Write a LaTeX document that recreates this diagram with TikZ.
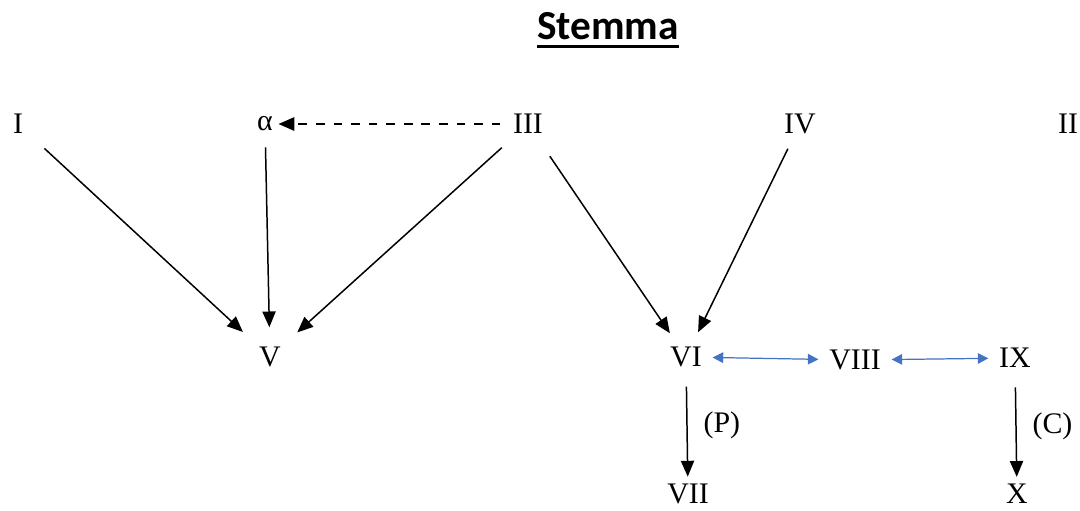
\documentclass[tikz,border=0pt]{standalone}
\usepackage{fontspec}
\setmainfont{Liberation Serif}
\newfontfamily\titlefont{Carlito}
\usetikzlibrary{arrows.meta}
\usepackage{xcolor}
\definecolor{linkblue}{HTML}{4472C4}

\begin{document}
\begin{tikzpicture}[x=0.02cm,y=-0.02cm]

\tikzset{vertex/.style = {inner sep=1pt,font=\fontsize{17}{20}\selectfont}}
\tikzset{edge/.style = {-{Triangle[length=9pt,width=7.5pt]},line width=0.85pt,shorten >=8pt,shorten <=8pt}}
\tikzset{link/.style = {{Triangle[length=6pt,width=6pt]}-{Triangle[length=6pt,width=6pt]},linkblue,line width=0.7pt,shorten >=5pt,shorten <=5pt}}
\useasboundingbox (0,0) rectangle (1080,511);
\node[inner sep=0pt,font=\titlefont\bfseries\fontsize{23.5}{28}\selectfont] (title) at (608,26) {Stemma};
\draw[line width=1.3pt] ([yshift=-4pt]title.base west) -- ([yshift=-4pt]title.base east);
\node[vertex] (I) at (18,124) {I};
\node[vertex] (alpha) at (265,124) {α};
\node[vertex] (III) at (528,124) {III};
\node[vertex] (IV) at (800,124) {IV};
\node[vertex] (II) at (1068,124) {II};
\node[vertex] (V) at (270,357) {V};
\node[vertex] (VI) at (686,357) {VI};
\node[vertex] (VIII) at (855,360) {VIII};
\node[vertex] (IX) at (1015,358) {IX};
\node[vertex] (VII) at (688,494) {VII};
\node[vertex] (X) at (1017,494) {X};
%edges
\draw[edge,shorten <=15pt,shorten >=11pt] (I) to (V);
\draw[edge,shorten >=10pt] (alpha) to (V);
\draw[edge,shorten <=10pt,shorten >=11pt] (III) to (V);
\draw[edge,dash pattern=on 5pt off 5pt,line width=1.3pt,shorten <=6pt,shorten >=2pt] (III) to (alpha);
\draw[edge,shorten <=14pt] (III) to (VI);
\draw[edge] (IV) to (VI);
\draw[link] (VI) to (VIII);
\draw[link] (VIII) to (IX);
\draw[edge,shorten <=10pt,shorten >=3pt] (VI) to node[vertex,right=8pt] {(P)} (VII);
\draw[edge,shorten <=10pt,shorten >=3pt] (IX) to node[vertex,right=8pt] {(C)} (X);
\end{tikzpicture}
\end{document}
